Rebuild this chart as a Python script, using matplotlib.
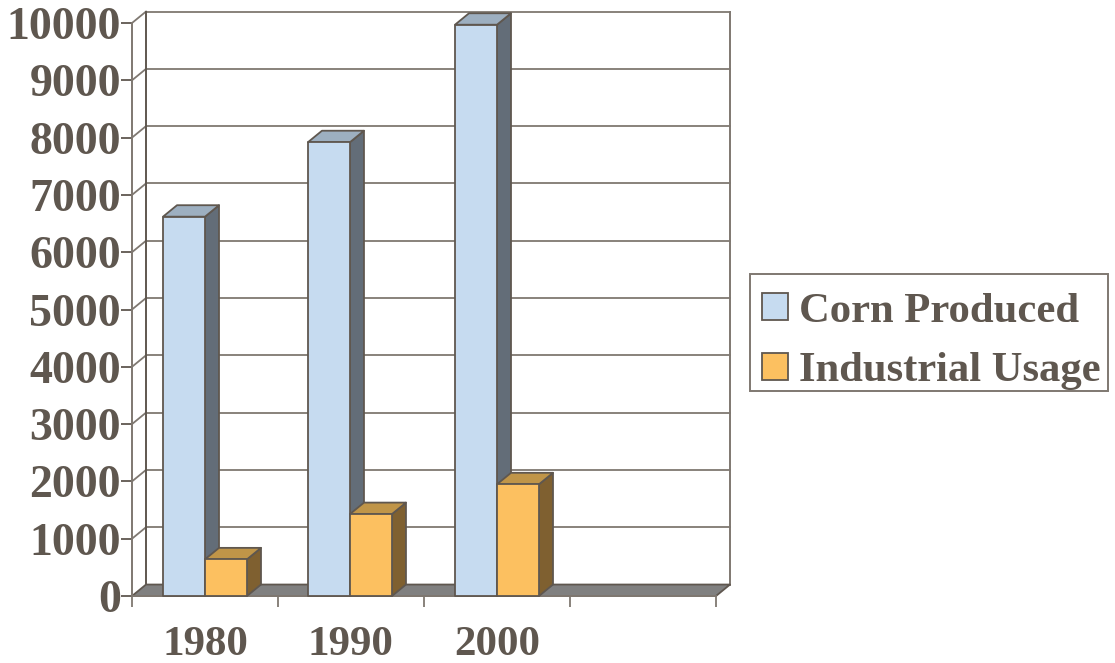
import matplotlib
matplotlib.use("Agg")
import matplotlib.pyplot as plt
from matplotlib.patches import Polygon, Patch, Rectangle

categories = ["1980", "1990", "2000", ""]
category_centers = [0.5, 1.493, 2.5, 3.5]
corn_produced = [6620, 7920, 9970]
industrial_usage = [640, 1430, 1950]
y_ticks = list(range(0, 10001, 1000))

TEXT = "#5F574F"
GRID = "#7F7871"
BLUE = ("#C6DBF0", "#636D78", "#9DAFC0")
ORANGE = ("#FCC060", "#7F6030", "#C09548")
FLOOR = "#808080"

W, H = 1115, 663
plt.rcParams["font.family"] = ["Liberation Serif", "DejaVu Serif"]
plt.rcParams["font.weight"] = "bold"

fig = plt.figure(figsize=(W / 100, H / 100), dpi=100)
ax = fig.add_axes([132 / W, 1 - 596 / H, (716 - 132) / W, (596 - 23) / H])
ax.set_xlim(0, 4)
ax.set_ylim(0, 10000)
ax.patch.set_visible(False)

DX, DY = 14 / 146, 200
BAR_W = 42 / 146
LW = 1.3


def poly(pts, fc, z):
    ax.add_patch(Polygon(pts, closed=True, facecolor=fc, edgecolor=TEXT,
                         linewidth=LW, clip_on=False, zorder=z, joinstyle="round"))


def bar3d(x0, v, colors, z):
    x1 = x0 + BAR_W
    poly([(x1, 0), (x1 + DX, DY), (x1 + DX, v + DY), (x1, v)], colors[1], z)
    poly([(x0, v), (x1, v), (x1 + DX, v + DY), (x0 + DX, v + DY)], colors[2], z)
    poly([(x0, 0), (x1, 0), (x1, v), (x0, v)], colors[0], z + 0.1)


# back wall and side wall
for v in y_ticks[1:]:
    ax.plot([DX, 4 + DX], [v + DY, v + DY], color=GRID, lw=1.3, clip_on=False, zorder=1)
    ax.plot([0, DX], [v, v + DY], color=GRID, lw=1.3, clip_on=False, zorder=1)
ax.plot([DX, DX], [DY, 10000 + DY], color=TEXT, lw=1.4, clip_on=False, zorder=1)
ax.plot([4 + DX, 4 + DX], [DY, 10000 + DY], color=GRID, lw=1.4, clip_on=False, zorder=1)

# floor
poly([(0, 0), (4, 0), (4 + DX, DY), (DX, DY)], FLOOR, 2)

# bars
for i, (a, b) in enumerate(zip(corn_produced, industrial_usage)):
    c = category_centers[i]
    bar3d(c - BAR_W, a, BLUE, 3 + i)
    bar3d(c, b, ORANGE, 3.5 + i)

# axes
for s in ("top", "right"):
    ax.spines[s].set_visible(False)
for s in ("left", "bottom"):
    ax.spines[s].set_color(GRID)
    ax.spines[s].set_linewidth(1.4)
    ax.spines[s].set_zorder(2.5)

ax.set_yticks(y_ticks)
ax.tick_params(axis="y", length=8, width=1.3, color=TEXT, labelcolor=TEXT, labelsize=33, pad=0)
ax.set_xticks(range(5))
ax.set_xticklabels([])
ax.tick_params(axis="x", which="major", length=8, width=1.3, color=GRID)
ax.set_xticks(category_centers, minor=True)
ax.set_xticklabels(categories, minor=True)
ax.tick_params(axis="x", which="minor", length=0, pad=21.5, labelcolor=TEXT, labelsize=31)
for lab in ax.get_yticklabels():
    lab.set_fontweight("bold")

# legend box, drawn apart from the entries so that they can sit as in the reference
fig.add_artist(Rectangle((750 / W, 1 - 391 / H), 358 / W, 117 / H, transform=fig.transFigure,
                         facecolor="white", edgecolor=GRID, linewidth=1.4))
handles = [Patch(facecolor=BLUE[0], edgecolor=TEXT, linewidth=1.3, label="Corn Produced"),
           Patch(facecolor=ORANGE[0], edgecolor=TEXT, linewidth=1.3, label="Industrial Usage")]
leg = fig.legend(handles=handles, loc="lower left",
                 bbox_to_anchor=(750.5 / W, 1 - 402 / H), bbox_transform=fig.transFigure,
                 fontsize=30.7, frameon=False,
                 handlelength=0.6, handleheight=0.6,
                 handletextpad=0.27, borderpad=0.27, borderaxespad=0, labelspacing=0.51,
                 labelcolor=TEXT)

fig.savefig("out.png", dpi=100)
